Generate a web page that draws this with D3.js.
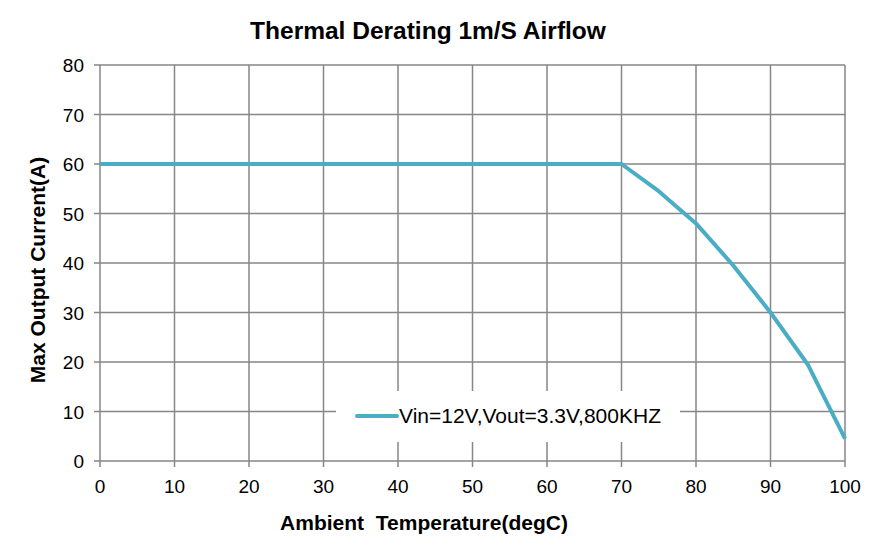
<!DOCTYPE html>
<html>
<head>
<meta charset="utf-8">
<script src="https://cdn.jsdelivr.net/npm/d3@7"></script>
<style>
  body { margin: 0; background: #fff; }
  text { font-family: Arial, "Liberation Sans", sans-serif; }
</style>
</head>
<body>
<svg id="chartSVG" width="883" height="548"></svg>
<script>
// values
var temps = [0, 70, 75, 80, 85, 90, 95, 100];
var currents = [60, 60, 54.5, 48, 39.5, 30, 19.5, 4.5];
var xTicks = [0, 10, 20, 30, 40, 50, 60, 70, 80, 90, 100];
var yTicks = [0, 10, 20, 30, 40, 50, 60, 70, 80];
var seriesName = "Vin=12V,Vout=3.3V,800KHZ";

var svg = d3.select("#chartSVG");
var plotLeft = 100, plotRight = 845, plotTop = 65, plotBottom = 461;
var gridColour = "#868686";
var lineColour = "#4BACC6";

var x = d3.scaleLinear().domain([0, 100]).range([plotLeft, plotRight]);
var y = d3.scaleLinear().domain([0, 80]).range([plotBottom, plotTop]);

// grid lines
svg.append("g").selectAll("line")
  .data(xTicks)
  .enter().append("line")
  .attr("x1", function(d) { return x(d); })
  .attr("x2", function(d) { return x(d); })
  .attr("y1", plotTop)
  .attr("y2", plotBottom + 6)
  .style("stroke", gridColour)
  .style("stroke-width", 1.5);
svg.append("g").selectAll("line")
  .data(yTicks)
  .enter().append("line")
  .attr("x1", plotLeft - 6)
  .attr("x2", plotRight)
  .attr("y1", function(d) { return y(d); })
  .attr("y2", function(d) { return y(d); })
  .style("stroke", gridColour)
  .style("stroke-width", 1.5);

// tick labels
svg.append("g").selectAll("text")
  .data(xTicks)
  .enter().append("text")
  .attr("x", function(d) { return x(d); })
  .attr("y", plotBottom + 32)
  .attr("text-anchor", "middle")
  .style("font-size", "19px")
  .text(function(d) { return d; });
svg.append("g").selectAll("text")
  .data(yTicks)
  .enter().append("text")
  .attr("x", plotLeft - 16)
  .attr("y", function(d) { return y(d) + 7; })
  .attr("text-anchor", "end")
  .style("font-size", "19px")
  .text(function(d) { return d; });

// legend box (covers grid)
svg.append("rect")
  .attr("x", 336)
  .attr("y", 391)
  .attr("width", 344)
  .attr("height", 51)
  .style("fill", "white");

// the derating curve
var line = d3.line()
  .x(function(d, i) { return x(temps[i]); })
  .y(function(d) { return y(d); });
svg.append("path")
  .datum(currents)
  .attr("d", line)
  .style("fill", "none")
  .style("stroke", lineColour)
  .style("stroke-width", 4)
  .style("stroke-linejoin", "round");

// legend
svg.append("line")
  .attr("x1", 357)
  .attr("x2", 397)
  .attr("y1", 416)
  .attr("y2", 416)
  .style("stroke", lineColour)
  .style("stroke-width", 4)
  .style("stroke-linecap", "round");
svg.append("text")
  .attr("x", 399)
  .attr("y", 423)
  .style("font-size", "21px")
  .text(seriesName);

// titles
svg.append("text")
  .attr("x", 428)
  .attr("y", 39)
  .attr("text-anchor", "middle")
  .style("font-size", "24.5px")
  .style("font-weight", "bold")
  .text("Thermal Derating 1m/S Airflow");
svg.append("text")
  .attr("x", 424)
  .attr("y", 530)
  .attr("text-anchor", "middle")
  .style("font-size", "21px")
  .style("font-weight", "bold")
  .attr("xml:space", "preserve")
  .text("Ambient  Temperature(degC)");
svg.append("text")
  .attr("transform", "translate(45," + ((plotTop + plotBottom) / 2 + 7) + ") rotate(-90)")
  .attr("text-anchor", "middle")
  .style("font-size", "21px")
  .style("font-weight", "bold")
  .text("Max Output Current(A)");
</script>
</body>
</html>
